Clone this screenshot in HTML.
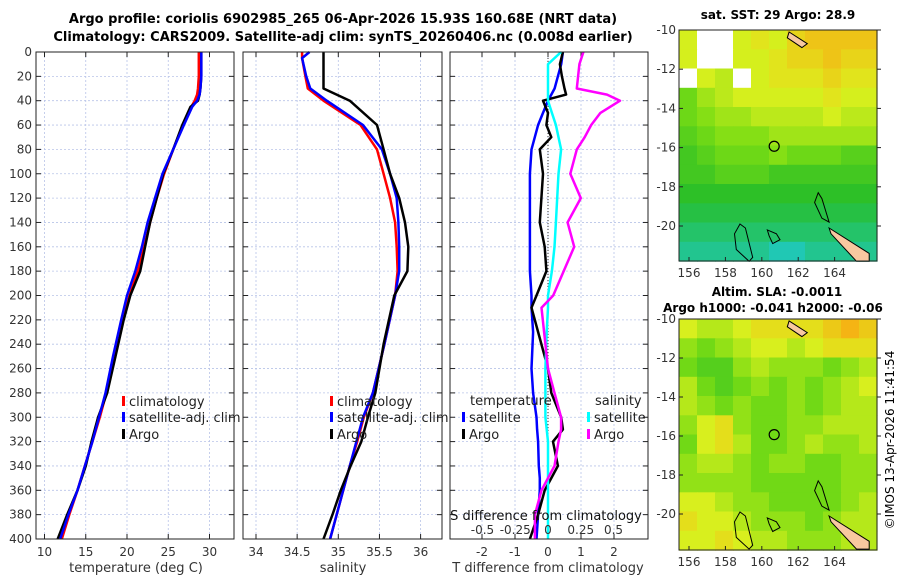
<!DOCTYPE html>
<html><head><meta charset="utf-8">
<style>
body{margin:0;background:#fff;}
svg{display:block;font-family:"DejaVu Sans","Liberation Sans",sans-serif;}
</style></head>
<body>
<svg id="fig" width="900" height="580" viewBox="0 0 900 580" xmlns="http://www.w3.org/2000/svg">
<text x="343" y="23" text-anchor="middle" font-size="13" font-weight="bold" fill="#000">Argo profile: coriolis 6902985_265 06-Apr-2026 15.93S 160.68E (NRT data)</text>
<text x="343" y="41" text-anchor="middle" font-size="13" font-weight="bold" fill="#000">Climatology: CARS2009. Satellite-adj clim: synTS_20260406.nc (0.008d earlier)</text>
<text x="778" y="19" text-anchor="middle" font-size="12" font-weight="bold">sat. SST: 29 Argo: 28.9</text>
<text x="777" y="296" text-anchor="middle" font-size="12" font-weight="bold">Altim. SLA: -0.0011</text>
<text x="773" y="312" text-anchor="middle" font-size="12" font-weight="bold">Argo h1000: -0.041 h2000: -0.06</text>
<text transform="translate(894,440) rotate(-90)" text-anchor="middle" font-size="12">©IMOS 13-Apr-2026 11:41:54</text>
<g id="g"></g>
</svg>
<script>
// ---------- data ----------
const depthTicks=[0,20,40,60,80,100,120,140,160,180,200,220,240,260,280,300,320,340,360,380,400];
const tempTicks=[10,15,20,25,30];
const salTicks=[34,34.5,35,35.5,36];
const tdiffTicks=[-2,-1,0,1,2];
const sdiffTicks=[-0.5,-0.25,0,0.25,0.5];
const sdiffTickLabels=["-0.5","-0.25","0","0.25","0.5"];

const tDepth=[0,20,30,35,40,45,60,80,100,120,140,160,180,200,220,250,280,300,320,340,360,380,400];
const tClim=[28.7,28.7,28.6,28.5,28.2,27.8,26.8,25.6,24.5,23.6,22.8,22.1,21.3,20.3,19.5,18.5,17.5,16.7,15.8,14.9,14.0,13.0,12.1];
const tSat=[29.0,29.0,28.9,28.8,28.5,27.9,26.9,25.6,24.3,23.4,22.5,21.8,21.0,20.0,19.3,18.3,17.4,16.6,15.8,14.9,14.0,12.9,11.9];
const tArgo=[29.0,29.0,28.9,28.8,28.6,27.7,26.7,25.6,24.4,23.6,22.8,22.2,21.6,20.4,19.6,18.6,17.6,16.5,15.7,15.0,14.0,12.75,11.6];

const sDepth=[0,5,20,30,40,60,80,100,120,140,160,180,200,240,280,300,320,340,360,380,400];
const sClim=[34.56,34.56,34.6,34.63,34.82,35.27,35.47,35.55,35.63,35.69,35.71,35.72,35.69,35.56,35.42,35.31,35.23,35.14,35.06,34.98,34.9];
const sSat=[34.65,34.56,34.61,34.66,34.86,35.3,35.53,35.63,35.71,35.73,35.74,35.74,35.69,35.56,35.42,35.3,35.22,35.14,35.06,34.98,34.9];
const sArgo=[34.82,34.82,34.82,34.82,35.14,35.47,35.55,35.63,35.74,35.81,35.85,35.84,35.68,35.55,35.45,35.36,35.28,35.15,35.03,34.93,34.82];

const dDepth=[0,10,20,30,35,40,50,60,70,80,100,120,140,160,180,200,210,230,260,280,300,310,320,340,350,360,380,400];
const dTArgo=[0.45,0.36,0.42,0.5,0.55,-0.15,0.0,-0.05,0.1,-0.25,-0.15,-0.2,-0.25,-0.1,-0.05,-0.35,-0.5,-0.3,0.0,0.1,0.4,0.45,0.15,0.3,0.1,-0.1,-0.3,-0.55];
const dTSat=[0.45,0.4,0.3,0.2,0.1,0.0,-0.15,-0.3,-0.4,-0.5,-0.55,-0.55,-0.55,-0.55,-0.55,-0.5,-0.5,-0.45,-0.5,-0.45,-0.35,-0.33,-0.3,-0.28,-0.25,-0.25,-0.3,-0.35];
const dSSat=[0.1,0.0,0.0,0.0,0.0,0.0,0.03,0.06,0.08,0.1,0.08,0.07,0.06,0.05,0.03,0.0,0.0,-0.01,-0.02,-0.02,-0.02,-0.01,0.0,0.0,0.0,0.0,0.0,0.0];
const dSArgo=[0.27,0.24,0.23,0.22,0.45,0.55,0.4,0.33,0.28,0.22,0.17,0.25,0.15,0.2,0.12,0.04,-0.05,-0.03,0.0,0.05,0.1,0.1,0.08,0.05,0.0,-0.05,-0.1,-0.1];

const lonTicks=[156,158,160,162,164];
const latTicks=[-10,-12,-14,-16,-18,-20];
// SST grid (deg C), rows from -10 to -21.7 lat, cols 155.5..166 lon; null = no data
const sstGrid=[
[28.9,null,null,28.9,29.0,28.9,29.1,29.2,29.2,29.2,29.2],
[28.9,null,null,28.9,28.9,29.0,29.1,29.1,29.2,29.1,29.1],
[null,28.9,28.8,null,28.9,29.0,29.0,29.0,29.1,29.0,29.0],
[28.5,28.7,28.8,28.9,28.9,28.9,28.9,28.9,29.0,28.9,28.9],
[28.5,28.6,28.7,28.7,28.8,28.8,28.8,28.8,28.9,28.8,28.8],
[28.4,28.5,28.6,28.6,28.6,28.7,28.7,28.7,28.7,28.7,28.7],
[28.3,28.4,28.5,28.5,28.5,28.6,28.5,28.5,28.5,28.4,28.4],
[28.3,28.3,28.4,28.4,28.4,28.3,28.3,28.3,28.3,28.3,28.3],
[28.2,28.2,28.2,28.2,28.2,28.2,28.2,28.2,28.2,28.2,28.2],
[28.1,28.1,28.1,28.1,28.1,28.1,28.1,28.1,28.1,28.1,28.1],
[28.0,28.0,28.0,28.0,28.0,28.0,28.0,28.0,28.0,28.0,28.0],
[27.9,27.9,27.9,27.9,27.9,27.8,27.8,27.9,27.9,27.9,27.9]];
// SLA grid (m)
const slaGrid=[
[0.02,0.01,0.01,0.02,0.03,0.03,0.03,0.03,0.04,0.05,0.04],
[0.00,-0.01,0.00,0.01,0.02,0.02,0.01,0.02,0.03,0.03,0.03],
[-0.01,-0.02,-0.02,0.00,0.01,0.00,0.00,0.00,-0.01,0.00,0.01],
[0.01,-0.01,-0.02,-0.01,0.00,-0.01,0.00,-0.01,0.00,0.01,0.02],
[0.01,0.00,-0.01,0.00,-0.01,-0.01,0.00,-0.01,0.00,0.01,0.01],
[0.00,0.02,0.03,0.00,-0.01,-0.01,0.00,0.00,0.01,0.01,0.01],
[-0.01,0.02,0.03,0.01,-0.01,-0.01,0.00,0.01,0.00,0.00,0.01],
[0.00,0.01,0.01,0.00,-0.01,0.00,0.00,-0.01,-0.01,0.00,0.00],
[0.00,0.00,0.00,0.00,-0.01,-0.01,-0.01,-0.01,-0.01,0.00,0.00],
[0.02,0.02,0.01,0.00,0.00,-0.01,-0.01,-0.01,-0.01,0.00,0.01],
[0.03,0.02,0.02,0.01,0.00,0.00,0.00,-0.01,0.00,0.01,0.01],
[0.02,0.02,0.03,0.02,0.01,0.01,0.00,0.00,0.00,0.01,0.01]];
const argoLon=[160.68], argoLat=[-15.93];

// ---------- helpers ----------
const NS="http://www.w3.org/2000/svg";
const G=document.getElementById('g');
function mk(tag,attrs,parent){const e=document.createElementNS(NS,tag);for(const k in attrs)e.setAttribute(k,attrs[k]);(parent||G).appendChild(e);return e;}
const TOP=52,BOT=539;
const yD=d=>TOP+(BOT-TOP)*d/400;
const panels=[
 {name:'temperature-panel',x0:36,x1:234,sx:v=>44.5+(v-10)*8.25,ticks:tempTicks,labels:tempTicks.map(String),ly:556},
 {name:'salinity-panel',x0:243,x1:442,sx:v=>256+(v-34)*82.3,ticks:salTicks,labels:salTicks.map(String),ly:556},
 {name:'difference-panel',x0:450,x1:648,sx:v=>548+v*33,ticks:tdiffTicks,labels:tdiffTicks.map(String),ly:556}
];
const sxS=v=>548+v*131;

panels.forEach((p,pi)=>{
  const pg=mk('g',{});
  
  
  mk('rect',{x:p.x0,y:TOP,width:p.x1-p.x0,height:BOT-TOP,fill:'#fff'},pg);
  depthTicks.forEach(d=>{
    const gl=mk('line',{x1:p.x0,x2:p.x1,y1:yD(d),y2:yD(d),stroke:'#b8c4e8','stroke-dasharray':'2,2','stroke-width':0.8},pg);
    
    
    mk('line',{x1:p.x0,x2:p.x0+5,y1:yD(d),y2:yD(d),stroke:'#222'},pg);
    mk('line',{x1:p.x1,x2:p.x1-5,y1:yD(d),y2:yD(d),stroke:'#222'},pg);
    if(pi===0){
      const t=mk('text',{x:p.x0-4,y:yD(d)+4,'text-anchor':'end','font-size':12,fill:'#333'},pg);
      
      
      t.textContent=d;
    }
  });
  p.ticks.forEach((v,i)=>{
    const x=p.sx(v);
    mk('line',{x1:x,x2:x,y1:TOP,y2:BOT,stroke:'#b8c4e8','stroke-dasharray':'2,2','stroke-width':0.8},pg);
    mk('line',{x1:x,x2:x,y1:BOT,y2:BOT-5,stroke:'#222'},pg);
    mk('line',{x1:x,x2:x,y1:TOP,y2:TOP+5,stroke:'#222'},pg);
    const t=mk('text',{x:x,y:p.ly,'text-anchor':'middle','font-size':12,fill:'#333'},pg);
    
    
    t.textContent=p.labels[i];
  });
  p.g=pg;
});
mk('line',{x1:548,x2:548,y1:TOP,y2:BOT,stroke:'#333','stroke-dasharray':'1,2','stroke-width':1},panels[2].g);

function line(parent,xs,ds,sx,color,w,name){
  const pts=xs.map((v,i)=>sx(v).toFixed(1)+','+yD(ds[i]).toFixed(1)).join(' ');
  const l=mk('polyline',{points:pts,fill:'none',stroke:color,'stroke-width':w,'stroke-linejoin':'round'},parent);
  
  
}
line(panels[0].g,tClim,tDepth,panels[0].sx,'#f00',2.5,'temperature-climatology-line');
line(panels[0].g,tArgo,tDepth,panels[0].sx,'#000',2.5,'temperature-argo-line');
line(panels[0].g,tSat,tDepth,panels[0].sx,'#00f',2.5,'temperature-satellite-line');
line(panels[1].g,sClim,sDepth,panels[1].sx,'#f00',2.5,'salinity-climatology-line');
line(panels[1].g,sSat,sDepth,panels[1].sx,'#00f',2.5,'salinity-satellite-line');
line(panels[1].g,sArgo,sDepth,panels[1].sx,'#000',2.5,'salinity-argo-line');
line(panels[2].g,dTSat,dDepth,panels[2].sx,'#00f',2.5,'tdiff-satellite-line');
line(panels[2].g,dTArgo,dDepth,panels[2].sx,'#000',2.5,'tdiff-argo-line');
line(panels[2].g,dSSat,dDepth,sxS,'#0ff',2.5,'sdiff-satellite-line');
line(panels[2].g,dSArgo,dDepth,sxS,'#f0f',2.5,'sdiff-argo-line');

sdiffTicks.forEach((v,i)=>{
  const t=mk('text',{x:sxS(v),y:534,'text-anchor':'middle','font-size':12,fill:'#333'},panels[2].g);
  
  
  t.textContent=sdiffTickLabels[i];
});
panels.forEach(p=>mk('rect',{x:p.x0,y:TOP,width:p.x1-p.x0,height:BOT-TOP,fill:'none',stroke:'#222','stroke-width':1},p.g));

function txt(x,y,s,name,opt){
  const t=mk('text',Object.assign({x:x,y:y,'font-size':12,fill:'#333'},opt||{}));
  
  
  t.textContent=s;return t;
}
txt(136,572,'temperature (deg C)','temperature-axis-title',{'text-anchor':'middle','font-size':13});
txt(343,572,'salinity','salinity-axis-title',{'text-anchor':'middle','font-size':13});
txt(548,572,'T difference from climatology','tdiff-axis-title',{'text-anchor':'middle','font-size':13});
txt(546,520,'S difference from climatology','sdiff-axis-title',{'text-anchor':'middle','font-size':13,fill:'#111'});

function legendEntry(x,y,color,label,name){
  const g=mk('g',{});
  
  
  mk('rect',{x:x,y:y-9,width:3,height:10,fill:color},g);
  const t=mk('text',{x:x+7,y:y+1,'font-size':13,fill:'#222'},g);t.textContent=label;
}
legendEntry(122,405,'#f00','climatology','legend-climatology');
legendEntry(122,421,'#00f','satellite-adj. clim','legend-satellite-adj');
legendEntry(122,438,'#000','Argo','legend-argo');
legendEntry(330,405,'#f00','climatology','legend-sal-climatology');
legendEntry(330,421,'#00f','satellite-adj. clim','legend-sal-satellite-adj');
legendEntry(330,438,'#000','Argo','legend-sal-argo');
txt(470,405,'temperature','legend-temperature-heading',{'font-size':13,fill:'#222'});
txt(595,405,'salinity','legend-salinity-heading',{'font-size':13,fill:'#222'});
legendEntry(462,421,'#00f','satellite','legend-tdiff-satellite');
legendEntry(462,438,'#000','Argo','legend-tdiff-argo');
legendEntry(587,421,'#0ff','satellite','legend-sdiff-satellite');
legendEntry(587,438,'#f0f','Argo','legend-sdiff-argo');

// ---------- maps ----------
function lerp(a,b,t){return a.map((v,i)=>Math.round(v+(b[i]-v)*t));}
function cmap(t){
  const stops=[[0,[32,200,180]],[0.25,[40,190,40]],[0.5,[120,220,20]],[0.75,[220,240,30]],[1,[245,180,20]]];
  t=Math.max(0,Math.min(1,t));
  for(let i=1;i<stops.length;i++)if(t<=stops[i][0]){const a=stops[i-1],b=stops[i];const c=lerp(a[1],b[1],(t-a[0])/(b[0]-a[0]));return `rgb(${c})`;}
  return 'rgb(245,180,20)';
}
function drawMap(name,grid,vmin,vmax,x0,x1,y0,y1,latAt){
  const g=mk('g',{});
  
  
  const nr=grid.length,nc=grid[0].length,cw=(x1-x0)/nc,ch=(y1-y0)/nr;
  grid.forEach((row,r)=>row.forEach((v,c)=>{
    const cell=mk('rect',{x:(x0+c*cw).toFixed(1),y:(y0+r*ch).toFixed(1),width:(cw+0.6).toFixed(1),height:(ch+0.6).toFixed(1),fill:v===null?'#fff':cmap((v-vmin)/(vmax-vmin))},g);
    
    
  }));
  const lx=lon=>x0+(lon-155.45)*18.2;
  const isl=[[[161.5,-10.1],[162.5,-10.7],[162.2,-10.9],[161.4,-10.4]],[[163.7,-20.1],[165.9,-21.4],[165.9,-21.8],[165.2,-21.8],[163.8,-20.4]]];
  isl.forEach(poly=>{
    mk('polygon',{points:poly.map(p=>lx(p[0]).toFixed(1)+','+latAt(p[1]).toFixed(1)).join(' '),fill:'#f8c8a0',stroke:'#000','stroke-width':1},g);
  });
  const reefs=[[[158.8,-19.9],[159.1,-20.1],[159.5,-21.6],[159.3,-21.8],[158.6,-21.2],[158.5,-20.4]],[[163.1,-18.3],[163.3,-18.6],[163.7,-19.8],[163.3,-19.6],[162.9,-18.8]],[[160.3,-20.2],[160.8,-20.4],[161.0,-20.7],[160.6,-20.9],[160.4,-20.5]]];
  reefs.forEach(poly=>mk('polygon',{points:poly.map(p=>lx(p[0]).toFixed(1)+','+latAt(p[1]).toFixed(1)).join(' '),fill:'none',stroke:'#000','stroke-width':1},g));
  const ap=mk('circle',{cx:lx(argoLon[0]),cy:latAt(argoLat[0]),r:5,fill:'none',stroke:'#000','stroke-width':1.2},g);
  
  
  mk('rect',{x:x0,y:y0,width:x1-x0,height:y1-y0,fill:'none',stroke:'#222'},g);
  lonTicks.forEach(l=>{
    mk('line',{x1:lx(l),x2:lx(l),y1:y1,y2:y1-4,stroke:'#222'},g);
    const t=mk('text',{x:lx(l),y:y1+16,'text-anchor':'middle','font-size':12,fill:'#333'},g);
    
    
    t.textContent=l;
  });
  latTicks.forEach(l=>{
    const y=latAt(l);
    mk('line',{x1:x1,x2:x1+4,y1:y,y2:y,stroke:'#222'},g);
    mk('line',{x1:x0,x2:x0+4,y1:y,y2:y,stroke:'#222'},g);
    const t=mk('text',{x:x0-3,y:y+4,'text-anchor':'end','font-size':12,fill:'#333'},g);
    
    
    t.textContent=l;
  });
}
drawMap('sst-map',sstGrid,27.8,29.3,679,877,30,261,lat=>30+(-10-lat)*19.6);
drawMap('sla-map',slaGrid,-0.065,0.05,679,877,319,550,lat=>319+(-10-lat)*19.5);
</script>
</body></html>
